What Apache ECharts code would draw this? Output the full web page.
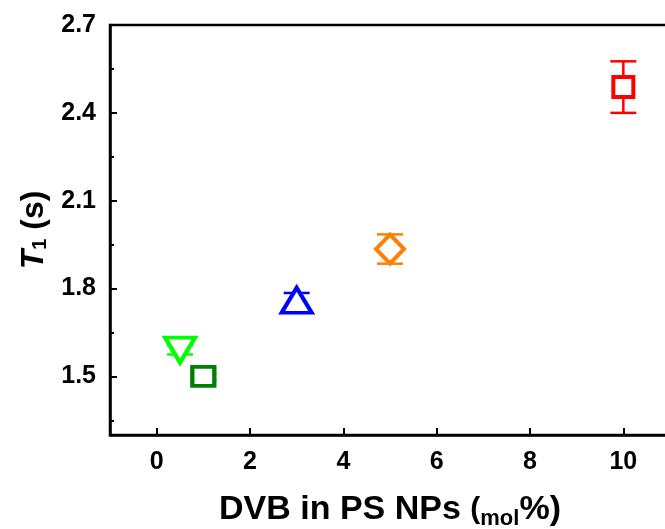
<!DOCTYPE html>
<html>
<head>
<meta charset="utf-8">
<script src="https://cdn.jsdelivr.net/npm/echarts@6/dist/echarts.min.js"></script>
<style>
html,body{margin:0;padding:0;background:#fff;}
#c{width:665px;height:529px;}
</style>
</head>
<body>
<div id="c"></div>
<script>
// Data
const xValues = [0.5, 1, 3, 5, 10];
const yValues = [1.59, 1.50, 1.76, 1.935, 2.488];
const yErrors = [0.015, 0.01, 0.025, 0.05, 0.088];
const colors = ['#00ff00', '#008000', '#0000ff', '#ff8000', '#ff0000'];
const symbols = ['triangle', 'rect', 'triangle', 'diamond', 'rect'];
const symbolRotations = [180, 0, 0, 0, 0];
const symbolSizes = [[30, 25], [22, 19], [30, 25], [28, 29], [20, 20]];
const xTickLabels = [0, 2, 4, 6, 8, 10];
const yTickLabels = [1.5, 1.8, 2.1, 2.4, 2.7];
const yMinorTicks = [1.35, 1.65, 1.95, 2.25, 2.55];

const chart = echarts.init(document.getElementById('c'));
const FONT = '"Liberation Sans", Arial, sans-serif';

const errSeries = {
  type: 'custom',
  z: 1,
  data: xValues.map((x, i) => [x, yValues[i], yErrors[i], i]),
  renderItem: function (params, api) {
    const x = api.value(0), y = api.value(1), e = api.value(2), i = api.value(3);
    const top = api.coord([x, y + e]);
    const bot = api.coord([x, y - e]);
    const hw = 13;
    const style = { stroke: colors[i], lineWidth: 2.5 };
    return {
      type: 'group',
      children: [
        { type: 'line', shape: { x1: top[0], y1: top[1], x2: bot[0], y2: bot[1] }, style: style },
        { type: 'line', shape: { x1: top[0] - hw, y1: top[1], x2: top[0] + hw, y2: top[1] }, style: style },
        { type: 'line', shape: { x1: bot[0] - hw, y1: bot[1], x2: bot[0] + hw, y2: bot[1] }, style: style }
      ]
    };
  }
};

const pointSeries = xValues.map((x, i) => ({
  type: 'scatter',
  z: 3,
  data: [[x, yValues[i]]],
  symbol: symbols[i],
  symbolSize: symbolSizes[i],
  symbolRotate: symbolRotations[i],
  itemStyle: { color: '#ffffff', borderColor: colors[i], borderWidth: 4, opacity: 1 },
  emphasis: { disabled: true }
}));

chart.setOption({
  animation: false,
  backgroundColor: '#ffffff',
  grid: { left: 110, top: 25, bottom: 94, right: -5, show: true, borderColor: '#000', borderWidth: 2.5, containLabel: false, outerBoundsMode: 'none' },
  xAxis: {
    type: 'value', min: -1, max: 11,
    name: '{a|DVB in PS NPs }{p|(}{b|mol}{a|%)}',
    nameLocation: 'middle', nameGap: 55,
    nameTextStyle: {
      rich: {
        a: { fontFamily: FONT, fontWeight: 'bold', fontSize: 34, color: '#000' },
        p: { fontFamily: FONT, fontWeight: 'bold', fontSize: 30, color: '#000' },
        b: { fontFamily: FONT, fontWeight: 'bold', fontSize: 22, color: '#000', verticalAlign: 'bottom', padding: [18, 0, 0, 0] }
      }
    },
    axisLine: { onZero: false, lineStyle: { color: '#000', width: 2.5 } },
    axisTick: { inside: true, length: 7, lineStyle: { color: '#000', width: 2 }, customValues: xTickLabels },
    axisLabel: { customValues: xTickLabels, fontFamily: FONT, fontWeight: 'bold', fontSize: 25, color: '#000', margin: 15 },
    splitLine: { show: false }
  },
  yAxis: [{
    type: 'value', min: 1.3, max: 2.7,
    name: '{t|T}{s|1}{n| (s)}',
    nameLocation: 'middle', nameGap: 60, nameRotate: 90,
    nameTextStyle: {
      rich: {
        t: { fontFamily: FONT, fontWeight: 'bold', fontStyle: 'italic', fontSize: 32, color: '#000' },
        s: { fontFamily: FONT, fontWeight: 'bold', fontSize: 20, color: '#000', verticalAlign: 'bottom', padding: [12, 0, 0, 0] },
        n: { fontFamily: FONT, fontWeight: 'bold', fontSize: 32, color: '#000' }
      }
    },
    axisLine: { show: true, onZero: false, lineStyle: { color: '#000', width: 2.5 } },
    axisTick: { show: true, inside: true, length: 7, lineStyle: { color: '#000', width: 2 }, customValues: yTickLabels },
    axisLabel: { customValues: yTickLabels, formatter: v => v.toFixed(1), fontFamily: FONT, fontWeight: 'bold', fontSize: 25, color: '#000', margin: 14 },
    splitLine: { show: false }
  }, {
    type: 'value', min: 1.3, max: 2.7, position: 'left',
    axisLine: { show: false, onZero: false },
    axisTick: { show: true, inside: true, length: 4, lineStyle: { color: '#000', width: 2 }, customValues: yMinorTicks },
    axisLabel: { show: false },
    splitLine: { show: false }
  }],
  series: [errSeries].concat(pointSeries)
});
</script>
</body>
</html>
